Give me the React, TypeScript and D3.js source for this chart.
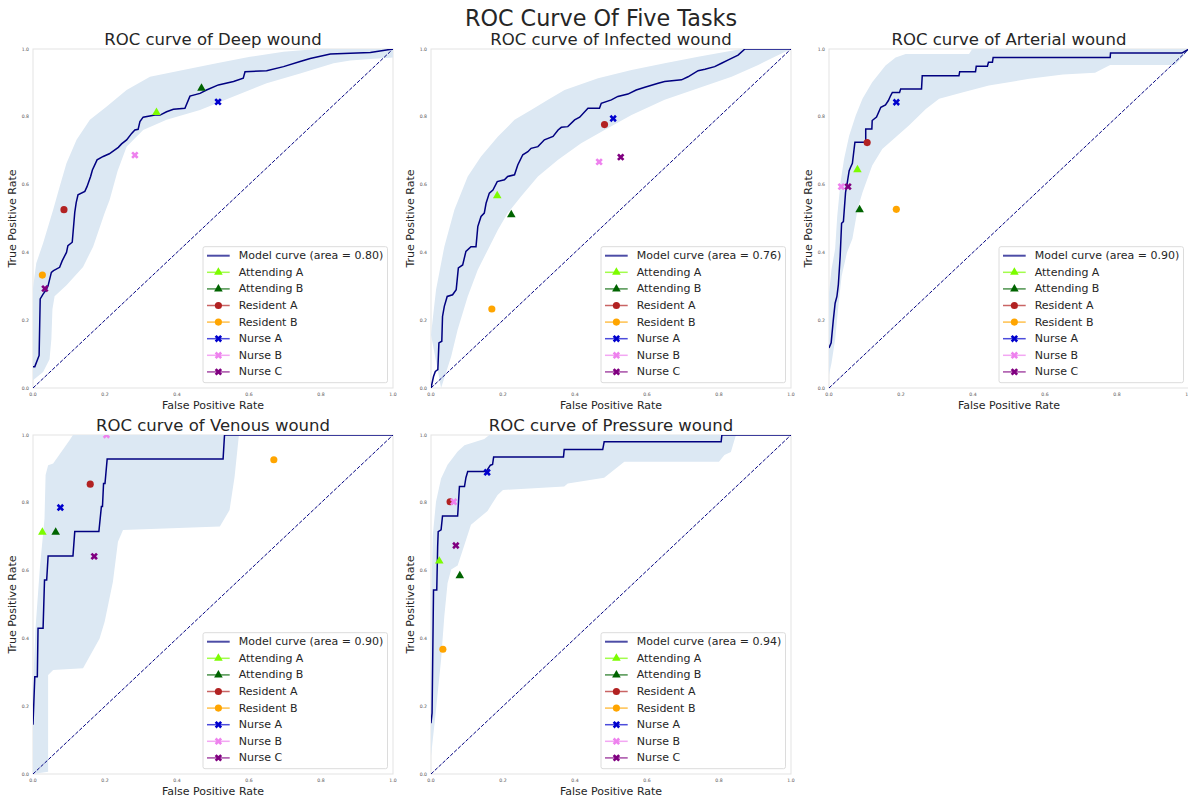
import React from "react";
import * as d3 from "d3";

type Pt = [number, number];

// ---- data ----
const taskNames = ["Deep", "Infected", "Arterial", "Venous", "Pressure"];
const aucValues = [0.8, 0.76, 0.9, 0.9, 0.94];
const readerNames = ["Attending A", "Attending B", "Resident A", "Resident B", "Nurse A", "Nurse B", "Nurse C"];
const tickValues = [0, 0.2, 0.4, 0.6, 0.8, 1.0];

const deepCurve: Pt[] = [[0,0.063],[0.005,0.063],[0.017,0.096],[0.02,0.263],[0.028,0.277],[0.037,0.29],[0.042,0.302],[0.051,0.341],[0.057,0.346],[0.074,0.356],[0.081,0.375],[0.093,0.4],[0.097,0.42],[0.109,0.43],[0.116,0.518],[0.12,0.547],[0.125,0.57],[0.144,0.58],[0.15,0.594],[0.16,0.624],[0.165,0.643],[0.178,0.673],[0.195,0.683],[0.212,0.691],[0.237,0.71],[0.246,0.72],[0.26,0.732],[0.274,0.751],[0.283,0.761],[0.292,0.763],[0.297,0.786],[0.306,0.799],[0.339,0.805],[0.353,0.805],[0.371,0.815],[0.39,0.822],[0.422,0.825],[0.436,0.861],[0.464,0.869],[0.482,0.879],[0.515,0.894],[0.557,0.904],[0.584,0.914],[0.589,0.933],[0.649,0.936],[0.696,0.948],[0.742,0.963],[0.77,0.972],[0.826,0.985],[0.937,0.99],[1,1]];
const deepUpper: Pt[] = [[0,0.295],[0.009,0.368],[0.028,0.427],[0.056,0.526],[0.074,0.594],[0.093,0.663],[0.121,0.732],[0.158,0.791],[0.204,0.83],[0.26,0.879],[0.325,0.918],[0.417,0.938],[0.51,0.958],[0.603,0.977],[0.696,0.992],[0.788,1],[1,1]];
const deepLower: Pt[] = [[0,0.023],[0.028,0.047],[0.046,0.085],[0.051,0.144],[0.054,0.232],[0.06,0.271],[0.093,0.303],[0.139,0.357],[0.167,0.417],[0.199,0.516],[0.213,0.555],[0.235,0.64],[0.26,0.712],[0.306,0.761],[0.371,0.791],[0.464,0.82],[0.557,0.86],[0.649,0.899],[0.742,0.928],[0.835,0.958],[0.881,0.966],[0.928,0.97],[1,0.975]];
const deepReaders: Pt[] = [[0.343,0.813],[0.468,0.884],[0.086,0.526],[0.026,0.333],[0.514,0.844],[0.283,0.687],[0.033,0.293]];

const infectedCurve: Pt[] = [[0,0],[0.007,0.034],[0.012,0.049],[0.019,0.054],[0.022,0.133],[0.03,0.138],[0.032,0.211],[0.037,0.241],[0.045,0.27],[0.06,0.275],[0.07,0.29],[0.076,0.354],[0.088,0.363],[0.097,0.403],[0.111,0.417],[0.125,0.417],[0.13,0.476],[0.139,0.506],[0.148,0.516],[0.153,0.545],[0.162,0.575],[0.172,0.584],[0.184,0.609],[0.204,0.614],[0.213,0.624],[0.232,0.629],[0.241,0.658],[0.255,0.688],[0.269,0.697],[0.278,0.707],[0.297,0.712],[0.315,0.732],[0.339,0.742],[0.353,0.761],[0.362,0.769],[0.38,0.771],[0.399,0.791],[0.413,0.799],[0.436,0.825],[0.468,0.825],[0.473,0.84],[0.501,0.85],[0.519,0.86],[0.547,0.867],[0.57,0.879],[0.594,0.887],[0.631,0.899],[0.649,0.904],[0.696,0.909],[0.714,0.918],[0.742,0.936],[0.761,0.94],[0.788,0.948],[0.807,0.958],[0.826,0.968],[0.853,0.982],[0.872,1],[1,1]];
const infectedUpper: Pt[] = [[0,0.157],[0.014,0.29],[0.037,0.417],[0.065,0.526],[0.102,0.624],[0.139,0.683],[0.186,0.742],[0.232,0.791],[0.278,0.82],[0.325,0.85],[0.371,0.879],[0.464,0.914],[0.557,0.938],[0.649,0.958],[0.742,0.977],[0.835,0.995],[0.863,1],[1,1]];
const infectedLower: Pt[] = [[0.028,0],[0.056,0.093],[0.074,0.172],[0.102,0.27],[0.13,0.349],[0.158,0.408],[0.186,0.467],[0.213,0.516],[0.25,0.565],[0.297,0.624],[0.353,0.673],[0.417,0.722],[0.482,0.761],[0.557,0.805],[0.649,0.85],[0.742,0.884],[0.835,0.918],[0.909,0.953],[0.955,0.977],[1,1]];
const infectedReaders: Pt[] = [[0.184,0.567],[0.223,0.511],[0.482,0.777],[0.169,0.233],[0.506,0.795],[0.467,0.667],[0.527,0.681]];

const arterialCurve: Pt[] = [[0,0.118],[0.006,0.133],[0.012,0.201],[0.017,0.25],[0.022,0.27],[0.026,0.305],[0.031,0.388],[0.035,0.486],[0.04,0.491],[0.046,0.577],[0.051,0.607],[0.056,0.641],[0.06,0.651],[0.065,0.663],[0.072,0.725],[0.102,0.725],[0.102,0.764],[0.119,0.764],[0.12,0.789],[0.132,0.799],[0.144,0.828],[0.157,0.835],[0.165,0.848],[0.171,0.862],[0.176,0.872],[0.196,0.872],[0.199,0.882],[0.257,0.882],[0.259,0.921],[0.361,0.921],[0.363,0.933],[0.407,0.933],[0.409,0.949],[0.44,0.949],[0.443,0.961],[0.454,0.961],[0.456,0.975],[0.781,0.975],[0.782,0.988],[0.98,0.988],[1,1]];
const arterialUpper: Pt[] = [[0,0.28],[0.007,0.35],[0.017,0.41],[0.023,0.508],[0.032,0.607],[0.042,0.676],[0.056,0.744],[0.074,0.803],[0.093,0.853],[0.12,0.902],[0.157,0.951],[0.185,0.975],[0.213,0.985],[0.389,0.985],[0.398,1],[1,1]];
const arterialLower: Pt[] = [[0,0.039],[0.007,0.074],[0.017,0.142],[0.026,0.241],[0.035,0.33],[0.05,0.4],[0.065,0.44],[0.08,0.53],[0.093,0.577],[0.12,0.656],[0.148,0.705],[0.222,0.774],[0.269,0.823],[0.306,0.853],[0.37,0.872],[0.444,0.892],[0.556,0.912],[0.65,0.925],[0.739,0.93],[0.781,0.953],[0.961,0.953],[1,0.997]];
const arterialReaders: Pt[] = [[0.079,0.644],[0.085,0.526],[0.106,0.724],[0.187,0.527],[0.187,0.843],[0.034,0.594],[0.053,0.594]];

const venousCurve: Pt[] = [[0,0.145],[0.005,0.287],[0.012,0.287],[0.014,0.43],[0.028,0.43],[0.032,0.572],[0.038,0.572],[0.042,0.643],[0.111,0.643],[0.116,0.715],[0.183,0.715],[0.19,0.789],[0.193,0.789],[0.196,0.857],[0.2,0.857],[0.206,0.929],[0.528,0.929],[0.532,1],[1,1]];
const venousUpper: Pt[] = [[0,0.25],[0.007,0.43],[0.019,0.607],[0.032,0.754],[0.035,0.882],[0.042,0.911],[0.056,0.916],[0.102,0.985],[0.111,1],[0.572,1]];
const venousLower: Pt[] = [[0,0],[0.042,0.007],[0.042,0.292],[0.056,0.307],[0.139,0.312],[0.185,0.4],[0.199,0.449],[0.222,0.567],[0.236,0.685],[0.25,0.72],[0.519,0.73],[0.546,0.779],[0.56,0.877],[0.572,1]];
const venousReaders: Pt[] = [[0.026,0.713],[0.063,0.713],[0.159,0.855],[0.669,0.927],[0.076,0.786],[0.204,1.0],[0.17,0.642]];

const pressureCurve: Pt[] = [[0,0.15],[0.003,0.18],[0.007,0.543],[0.016,0.543],[0.0185,0.671],[0.02,0.715],[0.028,0.72],[0.032,0.761],[0.074,0.761],[0.079,0.848],[0.093,0.848],[0.097,0.874],[0.102,0.892],[0.153,0.892],[0.165,0.911],[0.171,0.913],[0.174,0.935],[0.368,0.935],[0.37,0.957],[0.477,0.957],[0.481,0.98],[0.806,0.98],[0.808,1],[1,1]];
const pressureUpper: Pt[] = [[0,0.484],[0.005,0.705],[0.014,0.804],[0.028,0.872],[0.046,0.912],[0.074,0.951],[0.093,0.97],[0.148,0.988],[0.162,1],[0.847,1]];
const pressureLower: Pt[] = [[0,0.052],[0.014,0.19],[0.028,0.337],[0.037,0.465],[0.046,0.563],[0.056,0.603],[0.074,0.615],[0.093,0.676],[0.111,0.735],[0.157,0.776],[0.185,0.823],[0.2,0.838],[0.37,0.848],[0.38,0.857],[0.481,0.874],[0.537,0.921],[0.8,0.921],[0.815,0.941],[0.833,0.95],[0.847,1]];
const pressureReaders: Pt[] = [[0.023,0.628],[0.08,0.585],[0.053,0.803],[0.033,0.368],[0.156,0.89],[0.063,0.803],[0.069,0.674]];

// ---- styles ----
const readerColors = ["#7cfc00", "#006400", "#b22222", "#ffa500", "#0000cd", "#ee82ee", "#800080"];
const readerShapes = ["triangle", "triangle", "circle", "circle", "x", "x", "x"];
const curveColor = "#000080";
const bandColor = "#dce8f3";
const FONT = "DejaVu Sans, sans-serif";

const tasks = [
  { curve: deepCurve, upper: deepUpper, lower: deepLower, readers: deepReaders },
  { curve: infectedCurve, upper: infectedUpper, lower: infectedLower, readers: infectedReaders },
  { curve: arterialCurve, upper: arterialUpper, lower: arterialLower, readers: arterialReaders },
  { curve: venousCurve, upper: venousUpper, lower: venousLower, readers: venousReaders },
  { curve: pressureCurve, upper: pressureUpper, lower: pressureLower, readers: pressureReaders },
];

const W = 1188, H = 801;
const plotW = 360, plotH = 339;
const colX = [33, 431, 829];
const rowY = [49, 435];

function markerPath(shape: string) {
  if (shape === "triangle") return d3.symbol(d3.symbolTriangle, 32)();
  if (shape === "circle") return d3.symbol(d3.symbolCircle, 40)();
  return d3.symbol(d3.symbolCross, 34)();
}

function Marker({ shape, color, x, y }: { shape: string; color: string; x: number; y: number }) {
  const rot = shape === "x" ? " rotate(45)" : "";
  return <path d={markerPath(shape) || ""} transform={`translate(${x},${y})${rot}`} fill={color} />;
}

function Panel({ idx }: { idx: number }) {
  const task = tasks[idx];
  const x0 = colX[idx % 3];
  const y0 = rowY[Math.floor(idx / 3)];
  const x = d3.scaleLinear([0, 1], [x0, x0 + plotW]);
  const y = d3.scaleLinear([0, 1], [y0 + plotH, y0]);
  const line = d3.line<Pt>().x((d) => x(d[0])).y((d) => y(d[1]));
  const band = [...task.upper, ...task.lower.slice().reverse()];
  const clipId = `clip-${idx}`;
  const legX = x0 + 170, legY = y0 + plotH - 141.3;
  const rowH = 16.6;

  return (
    <g>
      <defs>
        <clipPath id={clipId}>
          <rect x={x0} y={y0} width={plotW} height={plotH} />
        </clipPath>
      </defs>
      <rect x={x0} y={y0} width={plotW} height={plotH} fill="white" stroke="#e3e3e3" strokeWidth={1} />
      <g clipPath={`url(#${clipId})`}>
        <path d={(line(band) || "") + "Z"} fill={bandColor} />
        <path d={line([[0, 0], [1, 1]]) || ""} stroke={curveColor} strokeWidth={1} strokeDasharray="3.7,1.6" fill="none" />
        <path d={line(task.curve) || ""} stroke={curveColor} strokeWidth={1.5} fill="none" />
        {task.readers.map((p, i) => (
          <Marker key={i} shape={readerShapes[i]} color={readerColors[i]} x={x(p[0])} y={y(p[1])} />
        ))}
      </g>
      {tickValues.map((t) => (
        <text key={"x" + t} x={x(t)} y={y0 + plotH + 6.3} fontSize={4.6} fill="#555" textAnchor="middle" dominantBaseline="central" fontFamily={FONT}>
          {t.toFixed(1)}
        </text>
      ))}
      {tickValues.map((t) => (
        <text key={"y" + t} x={x0 - 4} y={y(t)} fontSize={4.6} fill="#555" textAnchor="end" dominantBaseline="central" fontFamily={FONT}>
          {t.toFixed(1)}
        </text>
      ))}
      <text x={x0 + plotW / 2} y={y0 - 4} fontSize={16.5} fill="#262626" textAnchor="middle" fontFamily={FONT}>
        {`ROC curve of ${taskNames[idx]} wound`}
      </text>
      <text x={x0 + plotW / 2} y={y0 + plotH + 20.5} fontSize={11} fill="#262626" textAnchor="middle" fontFamily={FONT}>
        False Positive Rate
      </text>
      <text transform={`translate(${x0 - 17},${y0 + plotH / 2}) rotate(-90)`} fontSize={11} fill="#262626" textAnchor="middle" fontFamily={FONT}>
        True Positive Rate
      </text>
      <g transform={`translate(${legX},${legY})`}>
        <rect x={0} y={0} width={184.5} height={136} rx={2} fill="white" fillOpacity={0.85} stroke="#dcdcdc" strokeWidth={1} />
        <line x1={4} x2={26.7} y1={9} y2={9} stroke={curveColor} strokeWidth={2} strokeOpacity={0.7} />
        <text x={35.7} y={9} fontSize={11} fill="#262626" dominantBaseline="central" fontFamily={FONT}>
          {`Model curve (area = ${aucValues[idx].toFixed(2)})`}
        </text>
        {readerNames.map((name, i) => {
          const ry = 9 + (i + 1) * rowH;
          return (
            <g key={name}>
              <line x1={4} x2={26.7} y1={ry} y2={ry} stroke={readerColors[i]} strokeWidth={1.5} strokeOpacity={0.7} />
              <Marker shape={readerShapes[i]} color={readerColors[i]} x={15.4} y={ry} />
              <text x={35.7} y={ry} fontSize={11} fill="#262626" dominantBaseline="central" fontFamily={FONT}>
                {name}
              </text>
            </g>
          );
        })}
      </g>
    </g>
  );
}

export default function App() {
  return (
    <svg width={W} height={H} style={{ position: "absolute", left: 0, top: 0, background: "white" }}>
      <rect x={0} y={0} width={W} height={H} fill="white" />
      <text x={601} y={25.5} fontSize={22.3} fill="#262626" textAnchor="middle" fontFamily={FONT}>
        ROC Curve Of Five Tasks
      </text>
      {tasks.map((_, i) => (
        <Panel key={i} idx={i} />
      ))}
    </svg>
  );
}
